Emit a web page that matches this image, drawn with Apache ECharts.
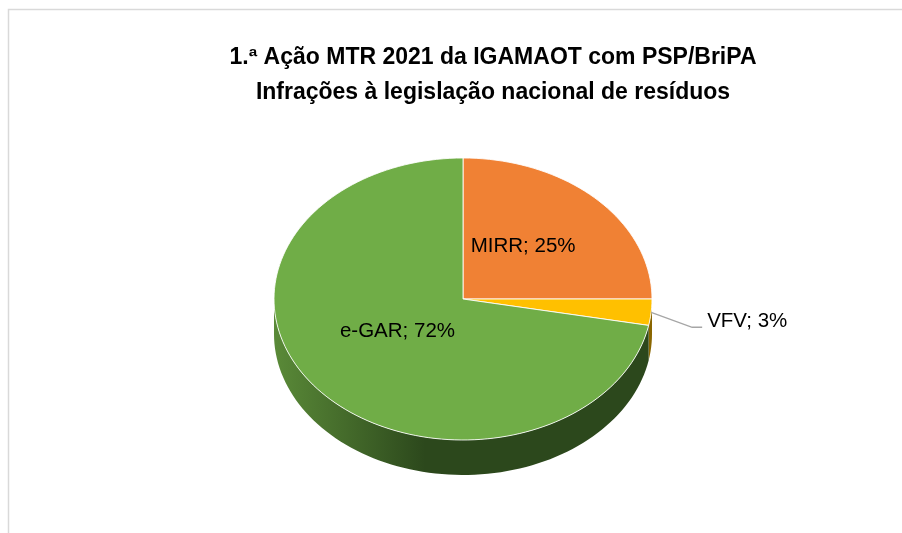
<!DOCTYPE html>
<html>
<head>
<meta charset="utf-8">
<script src="https://cdn.jsdelivr.net/npm/echarts@6/dist/echarts.min.js"></script>
<style>
  html, body { margin: 0; padding: 0; background: #fff; }
  #chart { width: 902px; height: 533px; }
</style>
</head>
<body>
<div id="chart"></div>
<script>
// dados do gráfico (percentagens por tipo de infração)
const categories = ['MIRR', 'VFV', 'e-GAR'];
const shares = [25, 3, 72];
const topColors = ['#F08134', '#FFC000', '#70AD47'];
const sideColors = [['#9c4f1c', '#7a3c14'], ['#a67c00', '#8a6600'], ['#5a8a38', '#2c481c']];

// geometria da "pizza 3D" (elipse)
const cx = 463, cy = 299, rx = 189, ry = 141, depth = 35;
const total = shares.reduce((a, b) => a + b, 0);
const labelFont = '20.5px "Liberation Sans", Arial, sans-serif';

function pt(deg, dy) {
  const r = deg * Math.PI / 180;
  return [cx + rx * Math.cos(r), cy + ry * Math.sin(r) + (dy || 0)];
}
function arc(a0, a1, dy) {
  const pts = [];
  const n = Math.max(2, Math.ceil(Math.abs(a1 - a0) / 2));
  for (let i = 0; i <= n; i++) pts.push(pt(a0 + (a1 - a0) * i / n, dy));
  return pts;
}

function renderItem(params, api) {
  const i = params.dataIndex;
  let before = 0;
  for (let k = 0; k < i; k++) before += shares[k];
  const a0 = -90 + before / total * 360;
  const a1 = a0 + shares[i] / total * 360;
  const children = [];

  // lado visível (parte de baixo da elipse)
  const s0 = Math.max(a0, 0), s1 = Math.min(a1, 180);
  if (s1 > s0) {
    const top = arc(s0, s1, 0);
    const bottom = arc(s1, s0, depth);
    children.push({
      type: 'polygon',
      shape: { points: top.concat(bottom) },
      style: {
        fill: new echarts.graphic.LinearGradient(cx - rx, 0, cx + rx, 0, [
          { offset: 0, color: sideColors[i][0] },
          { offset: 0.4, color: sideColors[i][1] },
          { offset: 1, color: sideColors[i][1] }
        ], true),
        stroke: null
      },
      z2: 1
    });
  }

  // face de cima
  children.push({
    type: 'polygon',
    shape: { points: [[cx, cy]].concat(arc(a0, a1, 0)) },
    style: { fill: topColors[i], stroke: 'rgba(255,255,255,0.85)', lineWidth: 1 },
    z2: 2
  });

  // rótulo
  const label = categories[i] + '; ' + Math.round(shares[i] / total * 100) + '%';
  const mid = (a0 + a1) / 2;
  if (shares[i] / total >= 0.05) {
    const r = mid * Math.PI / 180;
    children.push({
      type: 'text',
      style: {
        text: label, x: cx + rx * 0.45 * Math.cos(r), y: cy + ry * 0.45 * Math.sin(r) - 8,
        fill: '#000', font: labelFont,
        align: 'center', verticalAlign: 'middle'
      },
      z2: 5
    });
  } else {
    const p0 = pt(mid, 0);
    const p1 = [p0[0] + 41, p0[1] + 15];
    const p2 = [p1[0] + 10, p1[1]];
    children.push({
      type: 'polyline',
      shape: { points: [p0, p1, p2] },
      style: { stroke: '#a6a6a6', lineWidth: 1.3, fill: null },
      z2: 5
    });
    children.push({
      type: 'text',
      style: {
        text: label, x: p2[0] + 5, y: p2[1] - 6,
        fill: '#000', font: labelFont,
        align: 'left', verticalAlign: 'middle'
      },
      z2: 5
    });
  }
  return { type: 'group', children: children };
}

const myChart = echarts.init(document.getElementById('chart'));
myChart.setOption({
  animation: false,
  title: {
    text: '1.ª Ação MTR 2021 da IGAMAOT com PSP/BriPA\nInfrações à legislação nacional de resíduos',
    left: 488,
    textAlign: 'center',
    top: 35,
    textStyle: {
      fontFamily: '"Liberation Sans", Arial, sans-serif',
      fontWeight: 'bold',
      fontSize: 23,
      lineHeight: 35,
      color: '#000'
    }
  },
  graphic: [{
    type: 'rect',
    shape: { x: 8.5, y: 9.5, width: 1000, height: 600 },
    style: { fill: null, stroke: '#d9d9d9', lineWidth: 1.5 },
    silent: true
  }],
  series: [{
    type: 'custom',
    coordinateSystem: 'none',
    renderItem: renderItem,
    data: shares.map((v, i) => ({ name: categories[i], value: v }))
  }]
});
</script>
</body>
</html>
